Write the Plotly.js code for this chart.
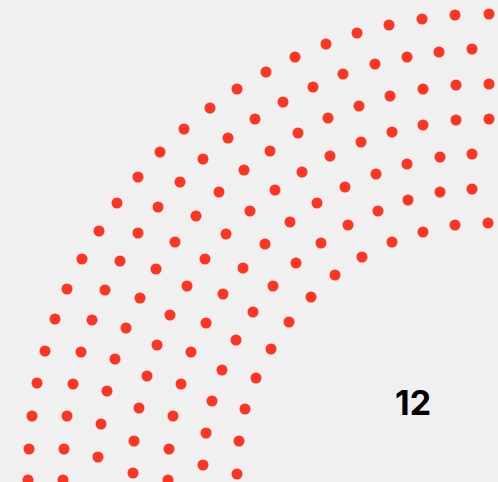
<!DOCTYPE html>
<html>
<head>
<meta charset="utf-8">
<script src="https://cdn.plot.ly/plotly-3.0.1.min.js"></script>
<style>html,body{margin:0;padding:0;background:#f0f0f0;}#chart{width:498px;height:482px;}</style>
</head>
<body>
<div id="chart"></div>
<script>
// Dot positions, one list per arc (outer to inner)
const arc1X = [489,455,422,389,357,326,295,266,237,210,184,160,138,117,99,82,67,55,45,37,32,29,28];
const arc1Y = [14,15,19,25,33,44,57,72,89,108,129,152,177,203,231,259,289,319,351,383,416,449,480];
const arc2X = [472,439,407,375,343,313,283,255,228,203,180,158,138,120,105,92,81,73,67,64,63];
const arc2Y = [49,52,57,64,74,87,102,119,138,159,182,207,233,261,290,320,352,384,416,449,480];
const arc3X = [489,456,423,390,359,328,298,270,244,219,196,175,156,140,126,115,107,101,98];
const arc3Y = [84,85,89,96,106,118,133,151,170,192,216,242,269,298,328,359,391,424,457];
const arc4X = [489,456,423,392,361,330,302,275,250,226,205,187,170,157,147,139,134,133];
const arc4Y = [119,120,125,132,142,156,172,190,211,234,259,286,315,345,376,408,441,473];
const arc5X = [472,440,407,376,345,317,290,265,243,223,206,191,181,173,169,168];
const arc5Y = [154,157,164,174,187,203,222,244,268,294,323,352,384,416,449,480];
const arc6X = [472,440,408,378,348,321,296,273,253,236,222,212,206,203];
const arc6Y = [189,192,200,211,225,243,263,286,312,340,370,401,433,465];
const arc7X = [488,455,423,392,362,335,311,289,271,256,245,239,237];
const arc7Y = [223,225,232,242,257,275,297,322,349,378,409,441,474];
const label = "12";
const labelX = 413;
const labelY = 402;

const arcsX = [arc1X, arc2X, arc3X, arc4X, arc5X, arc6X, arc7X];
const arcsY = [arc1Y, arc2Y, arc3Y, arc4Y, arc5Y, arc6Y, arc7Y];

const traces = arcsX.map((xs, i) => ({
  type: 'scatter',
  mode: 'markers',
  x: xs,
  y: arcsY[i],
  marker: {color: '#ff3421', size: 11, line: {width: 0}},
  hoverinfo: 'skip',
  showlegend: false,
  cliponaxis: true
}));

const layout = {
  width: 498,
  height: 482,
  margin: {l: 0, r: 0, t: 0, b: 0, pad: 0},
  paper_bgcolor: '#f0f0f0',
  plot_bgcolor: '#f0f0f0',
  xaxis: {range: [0, 498], visible: false, fixedrange: true},
  yaxis: {range: [482, 0], visible: false, fixedrange: true},
  annotations: [{
    x: labelX, y: labelY, xref: 'x', yref: 'y',
    text: '<b>' + label + '</b>', showarrow: false,
    font: {family: 'Inter, Roboto, sans-serif', size: 34, color: '#000000'},
    xanchor: 'center', yanchor: 'middle'
  }]
};

Plotly.newPlot('chart', traces, layout, {displayModeBar: false, staticPlot: true});
</script>
</body>
</html>
